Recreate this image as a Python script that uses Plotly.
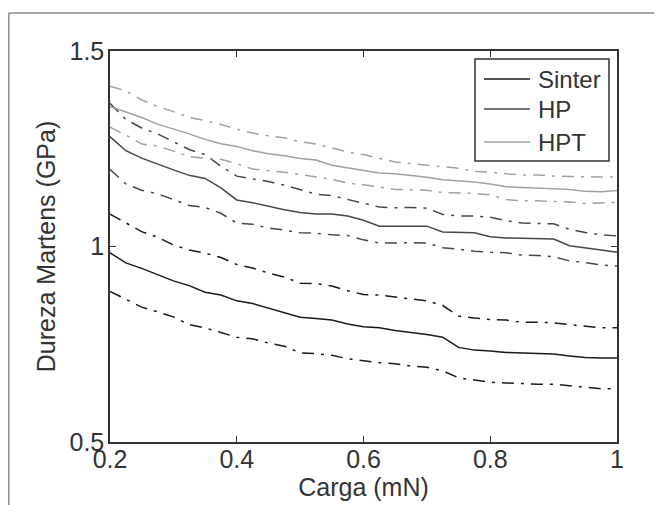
import plotly.graph_objects as go

carga = [0.200, 0.225, 0.250, 0.275, 0.300, 0.325, 0.350, 0.375, 0.400, 0.425,
         0.450, 0.475, 0.500, 0.525, 0.550, 0.575, 0.600, 0.625, 0.650, 0.675,
         0.700, 0.725, 0.750, 0.775, 0.800, 0.825, 0.850, 0.875, 0.900, 0.925,
         0.950, 0.975, 1.000]

sinter_mean = [0.984, 0.958, 0.944, 0.928, 0.912, 0.900, 0.883, 0.876, 0.861, 0.854,
               0.842, 0.832, 0.819, 0.816, 0.812, 0.802, 0.795, 0.792, 0.785, 0.780,
               0.775, 0.768, 0.742, 0.735, 0.733, 0.729, 0.728, 0.726, 0.725, 0.720,
               0.716, 0.715, 0.715]
sinter_upper = [1.083, 1.060, 1.038, 1.024, 1.004, 0.991, 0.983, 0.972, 0.954, 0.945,
                0.932, 0.922, 0.906, 0.905, 0.899, 0.887, 0.877, 0.876, 0.871, 0.866,
                0.861, 0.849, 0.822, 0.817, 0.813, 0.812, 0.806, 0.806, 0.805, 0.800,
                0.796, 0.792, 0.792]
sinter_lower = [0.885, 0.866, 0.845, 0.833, 0.820, 0.800, 0.792, 0.780, 0.768, 0.764,
                0.753, 0.745, 0.728, 0.726, 0.722, 0.713, 0.708, 0.703, 0.700, 0.694,
                0.691, 0.682, 0.664, 0.658, 0.653, 0.651, 0.649, 0.648, 0.648, 0.644,
                0.639, 0.636, 0.636]

hp_mean = [1.281, 1.245, 1.226, 1.210, 1.196, 1.182, 1.174, 1.150, 1.119, 1.112,
           1.103, 1.094, 1.087, 1.083, 1.083, 1.078, 1.067, 1.052, 1.052, 1.052,
           1.052, 1.037, 1.036, 1.035, 1.025, 1.022, 1.021, 1.020, 1.019, 1.002,
           0.997, 0.991, 0.985]
hp_upper = [1.366, 1.325, 1.303, 1.288, 1.268, 1.248, 1.235, 1.205, 1.180, 1.173,
            1.166, 1.157, 1.146, 1.134, 1.130, 1.120, 1.111, 1.101, 1.099, 1.100,
            1.098, 1.082, 1.078, 1.078, 1.075, 1.066, 1.060, 1.059, 1.058, 1.044,
            1.036, 1.030, 1.027]
hp_lower = [1.197, 1.160, 1.144, 1.135, 1.120, 1.105, 1.100, 1.085, 1.060, 1.057,
            1.047, 1.042, 1.035, 1.034, 1.030, 1.028, 1.017, 1.009, 1.009, 1.010,
            1.009, 0.997, 0.993, 0.988, 0.985, 0.984, 0.978, 0.977, 0.974, 0.963,
            0.959, 0.953, 0.950]

hpt_mean = [1.358, 1.345, 1.330, 1.313, 1.301, 1.288, 1.274, 1.263, 1.256, 1.245,
            1.237, 1.232, 1.225, 1.221, 1.208, 1.201, 1.195, 1.188, 1.186, 1.182,
            1.177, 1.171, 1.168, 1.165, 1.160, 1.153, 1.151, 1.150, 1.148, 1.146,
            1.141, 1.140, 1.143]
hpt_upper = [1.410, 1.398, 1.375, 1.358, 1.345, 1.330, 1.322, 1.312, 1.300, 1.290,
             1.283, 1.278, 1.268, 1.262, 1.252, 1.242, 1.235, 1.225, 1.216, 1.212,
             1.208, 1.203, 1.200, 1.192, 1.190, 1.186, 1.183, 1.183, 1.180, 1.179,
             1.178, 1.178, 1.178]
hpt_lower = [1.305, 1.285, 1.262, 1.257, 1.244, 1.230, 1.226, 1.223, 1.212, 1.198,
             1.194, 1.190, 1.184, 1.178, 1.172, 1.162, 1.158, 1.152, 1.146, 1.145,
             1.144, 1.138, 1.137, 1.136, 1.132, 1.120, 1.117, 1.117, 1.115, 1.114,
             1.110, 1.111, 1.113]

series_names = ["Sinter", "HP", "HPT"]
series_colors = ["#1a1a1a", "#474747", "#a0a0a0"]
means = [sinter_mean, hp_mean, hpt_mean]
uppers = [sinter_upper, hp_upper, hpt_upper]
lowers = [sinter_lower, hp_lower, hpt_lower]

x_ticks = [0.2, 0.4, 0.6, 0.8, 1.0]
x_ticktext = ["0.2", "0.4", "0.6", "0.8", "1"]
y_ticks = [0.5, 1.0, 1.5]
y_ticktext = ["0.5", "1", "1.5"]

FONT = "Liberation Sans, Arial, sans-serif"
TXT = "#333333"
DASHDOT = "12px,7px,3px,7px"

fig = go.Figure()
for name, col, m, u, lo in zip(series_names, series_colors, means, uppers, lowers):
    fig.add_trace(go.Scatter(x=carga, y=u, mode="lines", name=name + " +",
                             line=dict(color=col, width=1.5, dash=DASHDOT),
                             showlegend=False, hoverinfo="skip"))
    fig.add_trace(go.Scatter(x=carga, y=lo, mode="lines", name=name + " -",
                             line=dict(color=col, width=1.5, dash=DASHDOT),
                             showlegend=False, hoverinfo="skip"))
    fig.add_trace(go.Scatter(x=carga, y=m, mode="lines", name=name,
                             line=dict(color=col, width=1.5),
                             showlegend=False))

# the page body has an 8px margin, so the figure starts at page (8, 8)
OFF = 8
W, H = 662 - OFF, 505 - OFF
L, R, T, B = 110 - OFF, 45, 51 - OFF, 505 - 442
pw, ph = W - L - R, H - T - B

def px(page_x):
    return (page_x - OFF - L) / pw

def py(page_y):
    return (H - B - (page_y - OFF)) / ph

shapes = []
# outer figure frame (top and left edges)
shapes.append(dict(type="line", xref="paper", yref="paper",
                   x0=px(8.8), y0=py(13), x1=px(662), y1=py(13),
                   line=dict(color="#8a8a8a", width=1.5)))
shapes.append(dict(type="line", xref="paper", yref="paper",
                   x0=px(8.8), y0=py(13), x1=px(8.8), y1=py(505),
                   line=dict(color="#8a8a8a", width=1.5)))
# legend box
shapes.append(dict(type="rect", xref="paper", yref="paper",
                   x0=px(475), y0=py(161), x1=px(609), y1=py(59),
                   line=dict(color="#333333", width=1.5), fillcolor="white"))
annotations = []
rows = [79, 109, 142]
for name, col, ry in zip(series_names, series_colors, rows):
    shapes.append(dict(type="line", xref="paper", yref="paper",
                       x0=px(484), y0=py(ry), x1=px(530), y1=py(ry),
                       line=dict(color=col, width=1.5)))
    annotations.append(dict(xref="paper", yref="paper", x=px(536), y=py(ry),
                            text=name, showarrow=False, xanchor="left",
                            yanchor="middle",
                            font=dict(family=FONT, size=24, color=TXT)))

axis_common = dict(showline=True, linecolor="#333333", linewidth=1.5,
                   mirror="ticks", ticks="inside", ticklen=6, tickwidth=1.2,
                   tickcolor="#333333", showgrid=False, zeroline=False,
                   automargin=False,
                   tickfont=dict(family=FONT, size=25, color=TXT))

fig.update_layout(
    width=W, height=H,
    margin=dict(l=L, r=R, t=T, b=B, autoexpand=False),
    paper_bgcolor="white", plot_bgcolor="white",
    showlegend=False,
    shapes=shapes, annotations=annotations,
    xaxis=dict(range=[0.2, 1.0], tickvals=x_ticks, ticktext=x_ticktext,
               ticklabelstandoff=-6,
               title=dict(text="Carga (mN)", standoff=6,
                          font=dict(family=FONT, size=25, color=TXT)),
               **axis_common),
    yaxis=dict(range=[0.5, 1.5], tickvals=y_ticks, ticktext=y_ticktext,
               ticklabelstandoff=-1,
               title=dict(text="Dureza Martens (GPa)", standoff=7,
                          font=dict(family=FONT, size=25, color=TXT)),
               **axis_common),
)

fig.write_html("out.html")
